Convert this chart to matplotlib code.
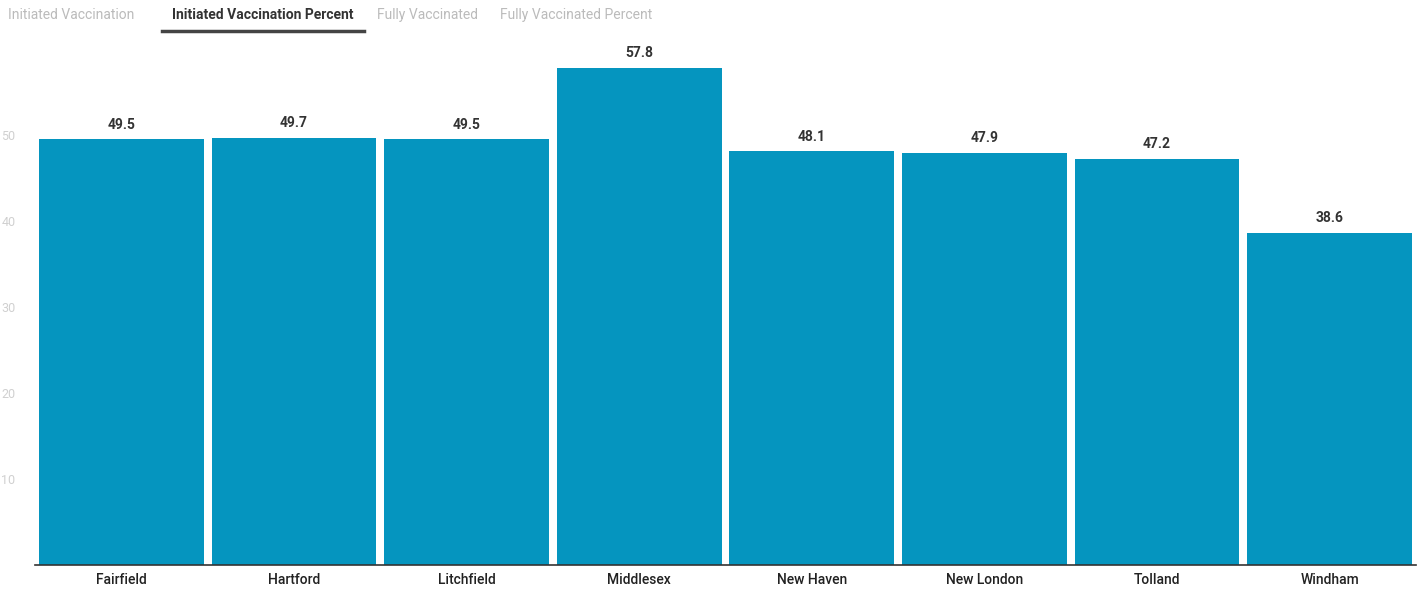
import matplotlib
matplotlib.use('Agg')
import matplotlib.pyplot as plt

counties = ['Fairfield', 'Hartford', 'Litchfield', 'Middlesex',
            'New Haven', 'New London', 'Tolland', 'Windham']
initiated_pct = [49.5, 49.7, 49.5, 57.8, 48.1, 47.9, 47.2, 38.6]
yticks = [10, 20, 30, 40, 50]
tabs = ['Initiated Vaccination', 'Initiated Vaccination Percent',
        'Fully Vaccinated', 'Fully Vaccinated Percent']
active_tab = 1

plt.rcParams['font.family'] = ['Roboto', 'DejaVu Sans']

fig = plt.figure(figsize=(14.21, 5.91), dpi=100)
ax = fig.add_axes([35 / 1421, 26 / 591, 1381 / 1421, 510 / 591])

x = range(len(counties))
bars = ax.bar(x, initiated_pct, width=0.955, color='#0595bf')
for b, v in zip(bars, initiated_pct):
    ax.text(b.get_x() + b.get_width() / 2, v + 0.9, f'{v:.1f}',
            ha='center', va='bottom', fontsize=10, fontweight='bold',
            color='#333333')

ax.set_xlim(-0.5, len(counties) - 0.5)
ax.set_ylim(0, 59.3)
ax.set_xticks(list(x))
ax.set_xticklabels(counties, fontsize=10, fontweight='medium', color='#222222')
ax.set_yticks(yticks)
ax.set_yticklabels([str(t) for t in yticks], fontsize=9, color='#d0d0d0')
ax.tick_params(axis='x', length=0, pad=6)
ax.tick_params(axis='y', length=0, pad=14)
for s in ['top', 'right', 'left']:
    ax.spines[s].set_visible(False)
ax.spines['bottom'].set_color('#333333')
ax.spines['bottom'].set_linewidth(1.2)

# tab strip across the top
tab_x = [8, 172, 377, 500]
for i, (t, tx) in enumerate(zip(tabs, tab_x)):
    if i == active_tab:
        fig.text(tx / 1421, 1 - 15 / 591, t, fontsize=10, fontweight='bold',
                 color='#333333', va='center')
    else:
        fig.text(tx / 1421, 1 - 15 / 591, t, fontsize=10, color='#bbbbbb',
                 va='center')
fig.add_artist(plt.Line2D([162 / 1421, 364 / 1421], [1 - 31 / 591, 1 - 31 / 591],
                          color='#444444', linewidth=2.5))

fig.savefig('out.png', dpi=100)
